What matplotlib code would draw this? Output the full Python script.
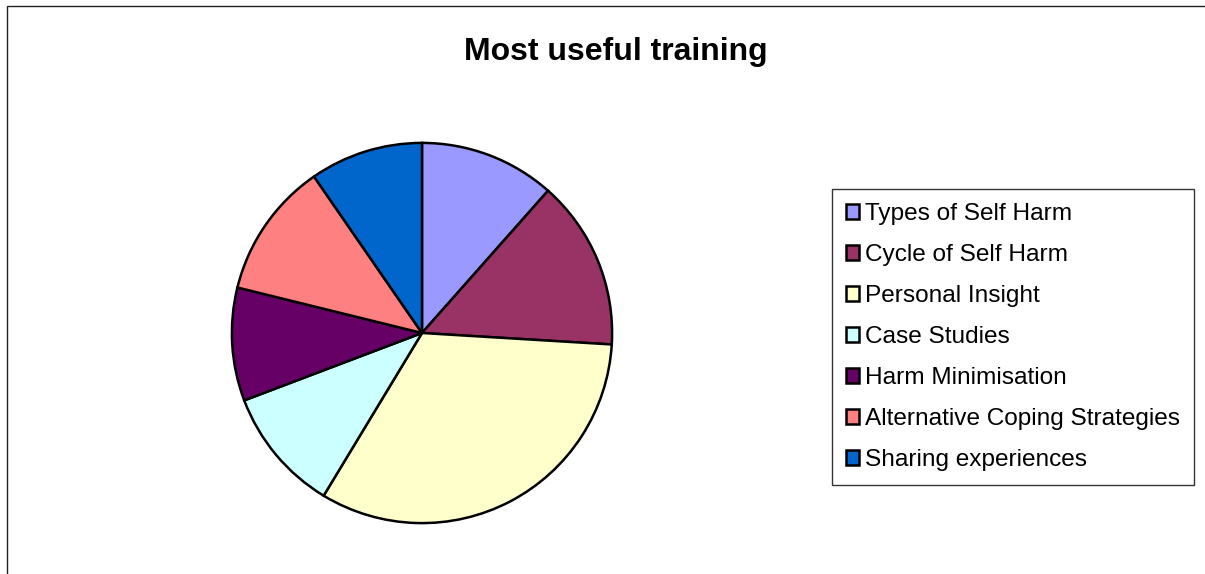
import matplotlib.pyplot as plt
from matplotlib.patches import Rectangle

# Data
labels = ['Types of Self Harm', 'Cycle of Self Harm', 'Personal Insight',
          'Case Studies', 'Harm Minimisation', 'Alternative Coping Strategies',
          'Sharing experiences']
counts = [12, 15, 34, 11, 10, 12, 10]
colors = ['#9999FF', '#993366', '#FFFFCC', '#CCFFFF', '#660066', '#FF8080', '#0066CC']

plt.rcParams['font.family'] = ['Liberation Sans', 'DejaVu Sans']

W, H = 1205, 574
fig = plt.figure(figsize=(W / 100, H / 100), dpi=100)

# outer chart frame (left and top edges visible)
fig.patches.append(Rectangle((7 / W, -0.1), 1.2, 1 - 6 / H + 0.1,
                             transform=fig.transFigure, fill=False,
                             edgecolor='#222222', linewidth=1.0))

# pie
cx, cy, r = 422, 333, 192
ax = fig.add_axes([(cx - r) / W, (H - cy - r) / H, 2 * r / W, 2 * r / H])
wedges, _ = ax.pie(counts, colors=colors, startangle=90, counterclock=False,
                   radius=1.0,
                   wedgeprops=dict(edgecolor='black', linewidth=1.8))
ax.set_xlim(-1.01, 1.01)
ax.set_ylim(-1.01, 1.01)
ax.set_aspect('equal')
ax.axis('off')

fig.text(616 / W, 1 - 52 / H, 'Most useful training', ha='center', va='center',
         fontsize=23, fontweight='bold')

leg = fig.legend(wedges, labels, loc='upper left', bbox_to_anchor=(832 / W, 1 - 189 / H),
                 fontsize=17.6, frameon=True, fancybox=False, handlelength=0.55,
                 handleheight=0.55, handletextpad=0.25, labelspacing=0.78,
                 borderpad=0.57, borderaxespad=0)
leg.get_frame().set_edgecolor('black')
leg.get_frame().set_linewidth(1.0)
for h in leg.legend_handles:
    h.set_linewidth(1.8)

fig.savefig('out.png', dpi=100)
